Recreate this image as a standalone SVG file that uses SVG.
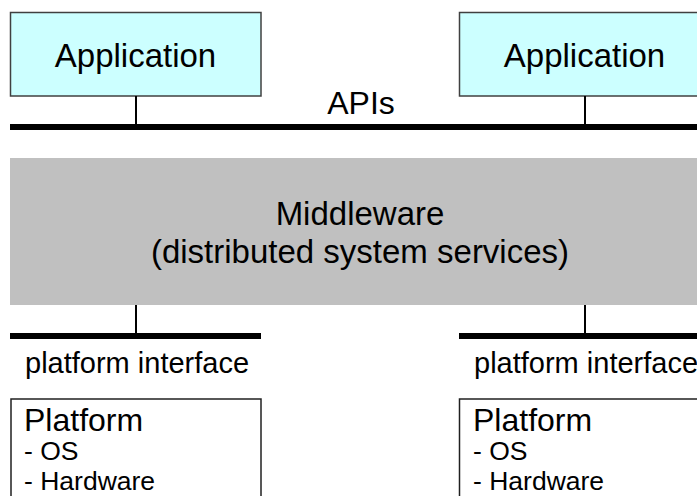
<svg xmlns="http://www.w3.org/2000/svg" width="697" height="496" viewBox="0 0 697 496">
<style>
text{font-family:"Liberation Sans",Arial,sans-serif;fill:#000}
.app{fill:#CCFFFF;stroke:#404040;stroke-width:1.5}
.plat{fill:#FFFFFF;stroke:#202020;stroke-width:1.5}
.bar{stroke:#000;stroke-width:6;fill:none}
.stem{stroke:#000;stroke-width:2;fill:none}
.big{font-size:33px}
.ttl{font-size:32px}
.mid{font-size:29px}
.item{font-size:26.5px}
</style>
<rect width="697" height="496" fill="#FFFFFF"/>
<g id="app-left">
<rect class="app" x="10.5" y="12.5" width="250.5" height="83.5"/>
<text class="big" x="135.5" y="67" text-anchor="middle">Application</text>
</g>
<g id="app-right">
<rect class="app" x="459.5" y="12.5" width="250.5" height="83.5"/>
<text class="big" x="584.5" y="67" text-anchor="middle">Application</text>
</g>
<g id="middleware">
<rect x="10" y="158" width="700" height="147" fill="#C0C0C0"/>
<text class="big" x="360" y="225" text-anchor="middle">Middleware</text>
<text class="big" x="360" y="263" text-anchor="middle">(distributed system services)</text>
</g>
<g id="platform-left">
<rect class="plat" x="11" y="399" width="250" height="110"/>
<text class="ttl" x="24" y="431">Platform</text>
<text class="item" x="24" y="460">- OS</text>
<text class="item" x="24" y="490">- Hardware</text>
</g>
<g id="platform-right">
<rect class="plat" x="459.5" y="399" width="250" height="110"/>
<text class="ttl" x="473" y="431">Platform</text>
<text class="item" x="473" y="460">- OS</text>
<text class="item" x="473" y="490">- Hardware</text>
</g>
<g id="connectors">
<line class="bar" x1="10" y1="127" x2="710" y2="127"/>
<line class="stem" x1="136" y1="96" x2="136" y2="125"/>
<line class="stem" x1="585" y1="96" x2="585" y2="125"/>
<line class="stem" x1="136" y1="305" x2="136" y2="334"/>
<line class="stem" x1="585" y1="305" x2="585" y2="334"/>
<line class="bar" x1="10" y1="336" x2="261" y2="336"/>
<line class="bar" x1="459" y1="336" x2="710" y2="336"/>
</g>
<g id="labels">
<text class="ttl" x="361" y="114" text-anchor="middle">APIs</text>
<text class="mid" x="25" y="373">platform interface</text>
<text class="mid" x="474" y="373">platform interface</text>
</g>
</svg>
